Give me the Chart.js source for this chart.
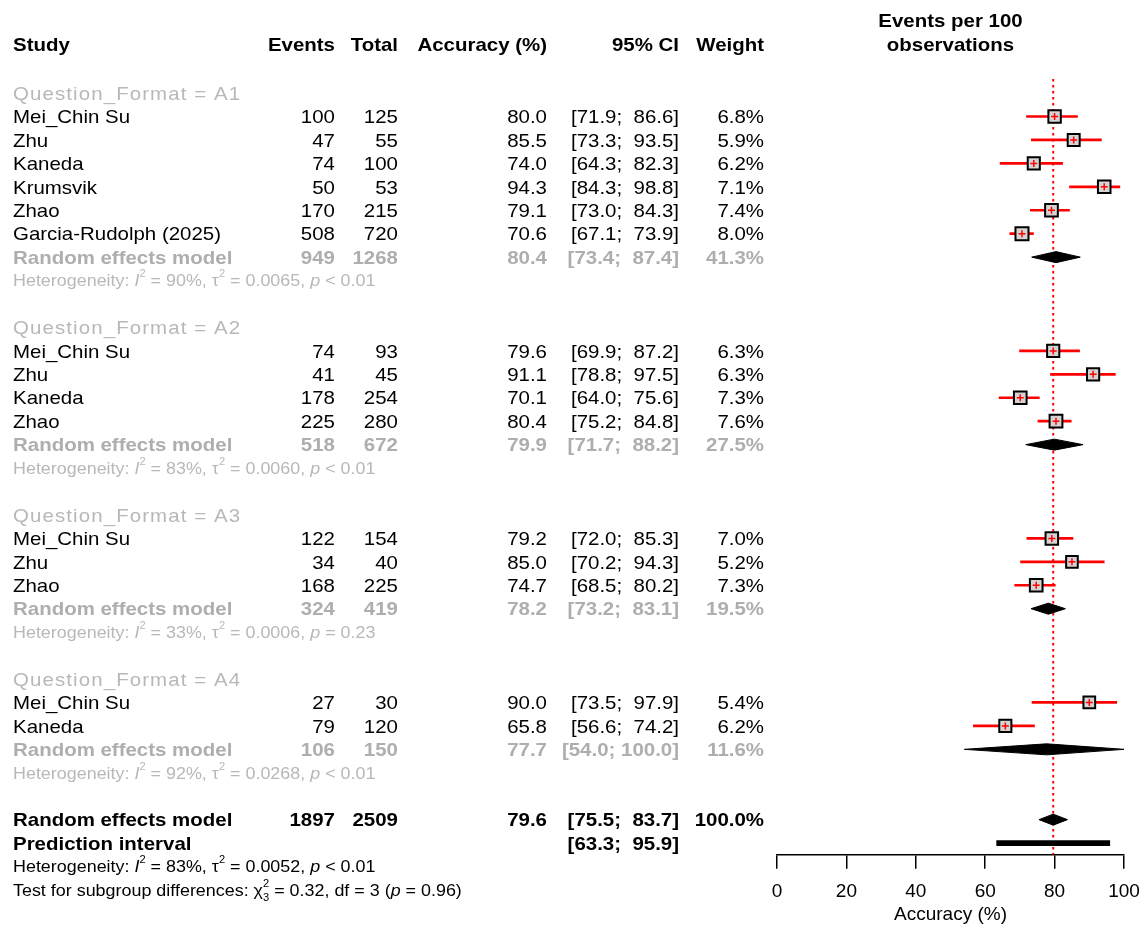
<!DOCTYPE html>
<html>
<head>
<meta charset="utf-8">
<script src="https://cdn.jsdelivr.net/npm/chart.js@4.4.1/dist/chart.umd.min.js"></script>
<style>
  html, body { margin: 0; padding: 0; background: #fff; }
  #wrap { width: 1143px; height: 926px; position: relative; }
</style>
</head>
<body>
<div id="wrap"><canvas id="forest"></canvas></div>
<script>
const groupNames = ['A1', 'A2', 'A3', 'A4'];
const studyGroup = [0, 0, 0, 0, 0, 0, 1, 1, 1, 1, 2, 2, 2, 3, 3];
const studyNames = [
  'Mei_Chin Su', 'Zhu', 'Kaneda', 'Krumsvik', 'Zhao', 'Garcia-Rudolph (2025)',
  'Mei_Chin Su', 'Zhu', 'Kaneda', 'Zhao',
  'Mei_Chin Su', 'Zhu', 'Zhao',
  'Mei_Chin Su', 'Kaneda'
];
const studyEvents = [100, 47, 74, 50, 170, 508, 74, 41, 178, 225, 122, 34, 168, 27, 79];
const studyTotals = [125, 55, 100, 53, 215, 720, 93, 45, 254, 280, 154, 40, 225, 30, 120];
const studyAcc = [80.0, 85.5, 74.0, 94.3, 79.1, 70.6, 79.6, 91.1, 70.1, 80.4, 79.2, 85.0, 74.7, 90.0, 65.8];
const studyLo = [71.9, 73.3, 64.3, 84.3, 73.0, 67.1, 69.9, 78.8, 64.0, 75.2, 72.0, 70.2, 68.5, 73.5, 56.6];
const studyHi = [86.6, 93.5, 82.3, 98.8, 84.3, 73.9, 87.2, 97.5, 75.6, 84.8, 85.3, 94.3, 80.2, 97.9, 74.2];
const studyWeight = [6.8, 5.9, 6.2, 7.1, 7.4, 8.0, 6.3, 6.3, 7.3, 7.6, 7.0, 5.2, 7.3, 5.4, 6.2];

const groupEvents = [949, 518, 324, 106];
const groupTotals = [1268, 672, 419, 150];
const groupAcc = [80.4, 79.9, 78.2, 77.7];
const groupLo = [73.4, 71.7, 73.2, 54.0];
const groupHi = [87.4, 88.2, 83.1, 100.0];
const groupWeight = [41.3, 27.5, 19.5, 11.6];
const groupI2 = ['90%', '83%', '33%', '92%'];
const groupTau2 = ['0.0065', '0.0060', '0.0006', '0.0268'];
const groupP = ['< 0.01', '< 0.01', '= 0.23', '< 0.01'];

const overallEvents = 1897, overallTotal = 2509;
const overallAcc = 79.6, overallLo = 75.5, overallHi = 83.7;
const predLo = 63.3, predHi = 95.9;
const overallI2 = '83%', overallTau2 = '0.0052', overallP = '< 0.01';
const testChi2 = '0.32', testDf = '3', testP = '0.96';

const xTicks = [0, 20, 40, 60, 80, 100];

// ---- layout ----
const FONT = '"Liberation Sans", Arial, sans-serif';
const SX = 1.1;          // source text is a bit stretched horizontally
const MAIN = 18.6, SMALL = 16.3;
const GRAY = '#aeaeae', LIGHT = '#b8b8b8';
const COL = { study: 13, ev: 335, tot: 398, acc: 547, ci: 679, w: 764 };
const Y_MIN = -0.6, AXIS_H = 71.2;
const DH = 0.235;        // half height of a diamond, in rows

// rows
const studyRow = [];
const headRow = [], poolRow = [], hetRow = [];
let r = 0;
groupNames.forEach((g, gi) => {
  headRow.push(r++);
  studyGroup.forEach((sg, si) => { if (sg === gi) studyRow[si] = r++; });
  poolRow.push(r++);
  hetRow.push(r++);
  r++;
});
const overallRow = r, predRow = r + 1, oHetRow = r + 2, testRow = r + 3;
const Y_MAX = predRow + 0.5;

const f1 = v => v.toFixed(1);
const ciText = (lo, hi) => '[' + f1(lo) + '; ' + f1(hi).padStart(5, ' ') + ']';
const diamond = (lo, est, hi, row) => [
  {x: lo, y: row}, {x: est, y: row - DH}, {x: hi, y: row}, {x: est, y: row + DH}, {x: lo, y: row}
];

const estPoints = studyAcc.map((v, i) => ({x: v, y: studyRow[i]}));
const diamonds = groupAcc.map((v, i) => diamond(groupLo[i], v, groupHi[i], poolRow[i]))
  .concat([diamond(overallLo, overallAcc, overallHi, overallRow)]);

function put(ctx, str, x, y, o = {}) {
  const size = o.size || MAIN;
  ctx.save();
  ctx.font = (o.bold ? 'bold ' : '') + size + 'px ' + FONT;
  ctx.fillStyle = o.color || '#000';
  ctx.textAlign = o.align || 'left';
  ctx.textBaseline = 'alphabetic';
  if (o.spacing) ctx.letterSpacing = o.spacing + 'px';
  ctx.translate(x, y + size * 0.36);
  ctx.scale(SX, 1);
  ctx.fillText(str, 0, 0);
  ctx.restore();
}

function rich(ctx, parts, x, y, color) {
  const size = SMALL;
  ctx.save();
  ctx.fillStyle = color;
  ctx.textBaseline = 'alphabetic';
  ctx.translate(x, y + size * 0.36);
  ctx.scale(SX, 1);
  let cx = 0;
  parts.forEach(p => {
    const s = typeof p === 'string' ? {t: p} : p;
    if (s.sup || s.sub) {
      ctx.font = (size * 0.62) + 'px ' + FONT;
      let w = 0;
      if (s.sup) { ctx.fillText(s.sup, cx, -size * 0.55); w = Math.max(w, ctx.measureText(s.sup).width); }
      if (s.sub) { ctx.fillText(s.sub, cx, size * 0.3); w = Math.max(w, ctx.measureText(s.sub).width); }
      cx += w;
    } else {
      ctx.font = (s.it ? 'italic ' : '') + size + 'px ' + FONT;
      ctx.fillText(s.t, cx, 0);
      cx += ctx.measureText(s.t).width;
    }
  });
  ctx.restore();
}

const hetParts = (i2, tau2, p) => [
  'Heterogeneity: ', {t: 'I', it: true}, {sup: '2'}, ' = ' + i2 + ', ',
  {t: 'τ'}, {sup: '2'}, ' = ' + tau2 + ', ', {t: 'p', it: true}, ' ' + p
];

const tablePlugin = {
  id: 'table',
  beforeDraw(chart) {
    const ctx = chart.ctx;
    ctx.save();
    ctx.fillStyle = '#fff';
    ctx.fillRect(0, 0, chart.width, chart.height);
    ctx.restore();
  },
  afterDraw(chart) {
    const ctx = chart.ctx;
    const ys = chart.scales.y;
    const Y = row => ys.getPixelForValue(row);
    const mid = (chart.chartArea.left + chart.chartArea.right) / 2;

    // headers
    const hy = Y(-2.1);
    put(ctx, 'Study', COL.study, hy, {bold: true});
    put(ctx, 'Events', COL.ev, hy, {bold: true, align: 'right'});
    put(ctx, 'Total', COL.tot, hy, {bold: true, align: 'right'});
    put(ctx, 'Accuracy (%)', COL.acc, hy, {bold: true, align: 'right'});
    put(ctx, '95% CI', COL.ci, hy, {bold: true, align: 'right'});
    put(ctx, 'Weight', COL.w, hy, {bold: true, align: 'right'});
    put(ctx, 'Events per 100', mid, Y(-3.1), {bold: true, align: 'center'});
    put(ctx, 'observations', mid, hy, {bold: true, align: 'center'});

    groupNames.forEach((g, gi) => {
      put(ctx, 'Question_Format = ' + g, COL.study, Y(headRow[gi]), {color: LIGHT, spacing: 1});
      const py = Y(poolRow[gi]);
      const o = {color: GRAY, bold: true, align: 'right'};
      put(ctx, 'Random effects model', COL.study, py, {color: GRAY, bold: true});
      put(ctx, String(groupEvents[gi]), COL.ev, py, o);
      put(ctx, String(groupTotals[gi]), COL.tot, py, o);
      put(ctx, f1(groupAcc[gi]), COL.acc, py, o);
      put(ctx, ciText(groupLo[gi], groupHi[gi]), COL.ci, py, o);
      put(ctx, f1(groupWeight[gi]) + '%', COL.w, py, o);
      rich(ctx, hetParts(groupI2[gi], groupTau2[gi], groupP[gi]), COL.study, Y(hetRow[gi]), LIGHT);
    });

    studyNames.forEach((name, i) => {
      const y = Y(studyRow[i]);
      const o = {align: 'right'};
      put(ctx, name, COL.study, y);
      put(ctx, String(studyEvents[i]), COL.ev, y, o);
      put(ctx, String(studyTotals[i]), COL.tot, y, o);
      put(ctx, f1(studyAcc[i]), COL.acc, y, o);
      put(ctx, ciText(studyLo[i], studyHi[i]), COL.ci, y, o);
      put(ctx, f1(studyWeight[i]) + '%', COL.w, y, o);
    });

    const oy = Y(overallRow);
    const b = {bold: true, align: 'right'};
    put(ctx, 'Random effects model', COL.study, oy, {bold: true});
    put(ctx, String(overallEvents), COL.ev, oy, b);
    put(ctx, String(overallTotal), COL.tot, oy, b);
    put(ctx, f1(overallAcc), COL.acc, oy, b);
    put(ctx, ciText(overallLo, overallHi), COL.ci, oy, b);
    put(ctx, '100.0%', COL.w, oy, b);
    put(ctx, 'Prediction interval', COL.study, Y(predRow), {bold: true});
    put(ctx, ciText(predLo, predHi), COL.ci, Y(predRow), b);
    rich(ctx, hetParts(overallI2, overallTau2, overallP), COL.study, Y(oHetRow), '#000');
    rich(ctx, ['Test for subgroup differences: ', {t: 'χ'}, {sup: '2', sub: testDf},
      ' = ' + testChi2 + ', df = ' + testDf + ' (', {t: 'p', it: true}, ' = ' + testP + ')'],
      COL.study, Y(testRow), '#000');
  }
};

const datasets = [
  {
    type: 'scatter', data: estPoints, pointStyle: 'cross', pointRadius: 3.5,
    borderColor: '#ff0000', borderWidth: 1.5, order: 0
  },
  {
    type: 'scatter', data: estPoints, pointStyle: 'rect',
    pointRadius: c => 6.4 + 0.35 * studyWeight[c.dataIndex],
    backgroundColor: '#d4d4d4', borderColor: '#000', borderWidth: 2, order: 1
  },
  {
    type: 'bar', indexAxis: 'y', grouped: false,
    data: studyAcc.map((v, i) => ({x: [studyLo[i], studyHi[i]], y: studyRow[i]})),
    backgroundColor: '#ff0000', barThickness: 2, order: 2
  },
  {
    type: 'bar', indexAxis: 'y', grouped: false,
    data: [{x: [predLo, predHi], y: predRow}],
    backgroundColor: '#000', barThickness: 5, order: 1
  }
];
diamonds.forEach(d => datasets.push({
  type: 'line', data: d, borderColor: '#000', backgroundColor: '#000', borderWidth: 1,
  pointRadius: 0, fill: 'shape', tension: 0, order: 1
}));
datasets.push({
  type: 'line', data: [{x: overallAcc, y: Y_MIN}, {x: overallAcc, y: Y_MAX}],
  borderColor: '#ff0000', borderWidth: 2, borderDash: [2.5, 3.5], pointRadius: 0, fill: false, order: 5
});

new Chart(document.getElementById('forest'), {
  type: 'scatter',
  data: { datasets: datasets },
  options: {
    responsive: true,
    maintainAspectRatio: false,
    animation: false,
    events: [],
    layout: { padding: { left: 777, right: 19, top: 79, bottom: 0 } },
    plugins: { legend: { display: false }, tooltip: { enabled: false } },
    scales: {
      x: {
        type: 'linear', min: 0, max: 100, offset: false, beginAtZero: false,
        afterBuildTicks: s => { s.ticks = xTicks.map(v => ({value: v})); },
        ticks: { color: '#000', font: { family: FONT, size: 19 }, padding: 12 },
        grid: { offset: false, drawOnChartArea: false, drawTicks: true, tickLength: 14, color: '#000', lineWidth: 1.5 },
        border: { display: true, color: '#000', width: 1.5 },
        title: { display: true, text: 'Accuracy (%)', color: '#000', font: { family: FONT, size: 19 }, padding: 0 },
        afterFit: s => { s.height = AXIS_H; s.paddingLeft = 0; s.paddingRight = 0; }
      },
      y: {
        type: 'linear', reverse: true, min: Y_MIN, max: Y_MAX, display: false,
        offset: false, grid: { offset: false }
      }
    }
  },
  plugins: [tablePlugin]
});
</script>
</body>
</html>
